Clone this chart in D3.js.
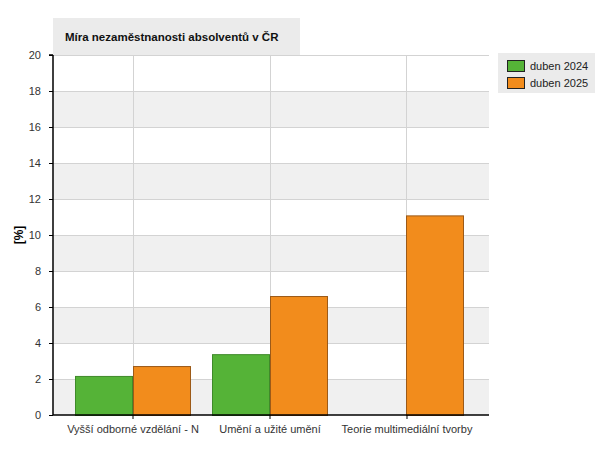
<!DOCTYPE html>
<html><head><meta charset="utf-8">
<script src="https://cdn.jsdelivr.net/npm/d3@7"></script>
<style>body{margin:0;background:#fff}svg{display:block}text{font-family:"Liberation Sans",Arial,sans-serif}</style>
</head><body>
<svg id="c" width="600" height="450"></svg>
<script>
const categories = ["Vyšší odborné vzdělání - N", "Umění a užité umění", "Teorie multimediální tvorby"];
const seriesNames = ["duben 2024", "duben 2025"];
const values2024 = [2.17, 3.38, null];
const values2025 = [2.72, 6.61, 11.09];
const yTicks = [0, 2, 4, 6, 8, 10, 12, 14, 16, 18, 20];
const title = "Míra nezaměstnanosti absolventů v ČR";
const yLabel = "[%]";
const fills = ["#55b337", "#f28c1c"];
const strokes = ["#3f8a2a", "#9c5a18"];

const svg = d3.select("#c");
const L = 53, R = 489, T = 55, B = 415;
const y = d3.scaleLinear().domain([0, 20]).range([B, T]);
const x = d3.scaleBand().domain(categories).range([L, R - 2]).paddingOuter(0.084).paddingInner(0);
const step = x.bandwidth();
const xs = d3.scaleBand().domain(seriesNames).range([11, step - 11]);

// bands
for (let i = 0; i < yTicks.length - 1; i++) {
  svg.append("rect").attr("x", L).attr("width", R - L)
    .attr("y", y(yTicks[i + 1])).attr("height", y(yTicks[i]) - y(yTicks[i + 1]))
    .attr("fill", i % 2 === 0 ? "#f0f0f0" : "#ffffff");
}
// horizontal grid
svg.selectAll(".hg").data(yTicks.slice(1)).enter().append("line")
  .attr("x1", L).attr("x2", R).attr("y1", d => y(d) + 0.5).attr("y2", d => y(d) + 0.5)
  .attr("stroke", "#d3d3d3").attr("stroke-width", 1);
// vertical grid at category centers
svg.selectAll(".vg").data(categories).enter().append("line")
  .attr("x1", d => Math.floor(x(d) + step / 2) + 0.5).attr("x2", d => Math.floor(x(d) + step / 2) + 0.5)
  .attr("y1", T).attr("y2", B).attr("stroke", "#d3d3d3");

// bars
const data = [values2024, values2025];
data.forEach((vals, si) => {
  svg.append("g").selectAll("rect").data(categories.map((c, i) => ({c, v: vals[i]})).filter(d => d.v != null))
    .enter().append("rect")
    .attr("x", d => Math.floor(x(d.c) + xs(seriesNames[si])) + 0.5)
    .attr("width", Math.round(xs.bandwidth()))
    .attr("y", d => y(d.v) + 0.5)
    .attr("height", d => y(0) - y(d.v))
    .attr("fill", fills[si]).attr("stroke", strokes[si]).attr("stroke-width", 1);
});

// axes
const ya = svg.append("g").attr("transform", `translate(${L},0)`)
  .call(d3.axisLeft(y).tickValues(yTicks).tickSize(4).tickPadding(8));
const xa = svg.append("g").attr("transform", `translate(0,${B})`)
  .call(d3.axisBottom(x).tickSize(4).tickPadding(6));
[ya, xa].forEach(g => {
  g.select(".domain").attr("stroke", "#000").attr("stroke-width", 1.5);
  g.selectAll(".tick line").attr("stroke", "#000");
  g.selectAll("text").attr("font-size", 11).attr("fill", "#333")
    .attr("font-family", '"Liberation Sans",Arial,sans-serif');
});
ya.select(".domain").attr("d", `M-4,${T}H0V${B}`);
xa.select(".domain").attr("d", `M${L},0H${R}`);

// y label
svg.append("text").attr("transform", "translate(23,235) rotate(-90)")
  .attr("text-anchor", "middle").attr("font-size", 12).attr("font-weight", "bold").attr("fill", "#000")
  .text(yLabel);

// title box
svg.append("rect").attr("x", 53).attr("y", 18).attr("width", 247).attr("height", 37).attr("fill", "#ebebeb");
svg.append("text").attr("x", 65).attr("y", 41).attr("font-size", 11.5).attr("font-weight", "bold")
  .attr("fill", "#111").text(title);

// legend
svg.append("rect").attr("x", 498).attr("y", 53).attr("width", 97).attr("height", 40).attr("fill", "#ebebeb");
seriesNames.forEach((s, i) => {
  svg.append("rect").attr("x", 507.5).attr("y", 60.5 + i * 17).attr("width", 17).attr("height", 11)
    .attr("fill", fills[i]).attr("stroke", "#222");
  svg.append("text").attr("x", 530).attr("y", 70 + i * 17).attr("font-size", 11).attr("fill", "#222").text(s);
});
</script>
</body></html>
